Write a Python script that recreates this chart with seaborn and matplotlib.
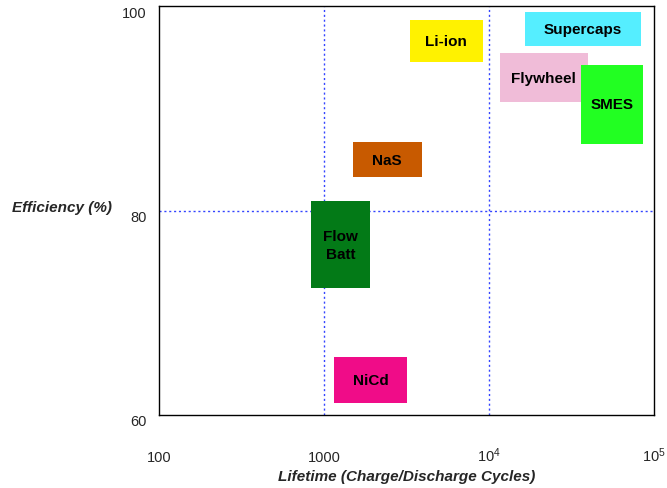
import numpy as np
import pandas as pd
import matplotlib
matplotlib.use('Agg')
import matplotlib.pyplot as plt
import matplotlib.transforms as mtransforms
import seaborn as sns

# storage technologies: lifetime range (cycles) and efficiency range (%)
techs = ['Li-ion', 'Supercaps', 'Flywheel', 'SMES', 'NaS', 'Flow\nBatt', 'NiCd']
life_lo = [3300, 16500, 11700, 36000, 1500, 830, 1150]
life_hi = [9200, 83000, 39600, 86000, 3900, 1900, 3200]
eff_lo = [94.6, 96.1, 90.6, 86.5, 83.3, 72.4, 61.2]
eff_hi = [98.7, 99.4, 95.4, 94.3, 86.7, 80.9, 65.7]
colors = ['#fff200', '#55eeff', '#f0bcd8', '#22ff22', '#c85a00', '#037a17', '#f00c88']

xticks = [100, 1000, 1e4, 1e5]
xticklabels = ['100', '1000', r'$\mathregular{10^4}$', r'$\mathregular{10^5}$']
yticks = [60, 80, 100]

df = pd.DataFrame({'tech': techs, 'lo': life_lo, 'hi': life_hi,
                   'elo': eff_lo, 'ehi': eff_hi, 'color': colors})

sns.set_style('white')
plt.rcParams['font.family'] = ['Liberation Sans', 'DejaVu Sans']

fig = plt.figure(figsize=(6.67, 4.89), dpi=100)
ax = fig.add_axes([0.2384, 0.1493, 0.7421, 0.8357])
ax.set_xscale('log')

# rectangles as bars spanning both ranges
ax.bar(df['lo'], df['ehi'] - df['elo'], width=df['hi'] - df['lo'], bottom=df['elo'],
       align='edge', color=df['color'], linewidth=0, zorder=3)

for _, r in df.iterrows():
    ax.text(np.sqrt(r['lo'] * r['hi']), (r['elo'] + r['ehi']) / 2, r['tech'],
            ha='center', va='center', fontsize=11, fontweight='bold',
            color='black', zorder=4, linespacing=1.4)

ax.set_xlim(100, 1e5)
ax.set_ylim(60, 100)
ax.set_xticks(xticks)
ax.set_xticklabels(xticklabels, fontsize=10.5)
ax.minorticks_off()
ax.set_yticks(yticks)
ax.set_yticklabels([str(v) for v in yticks], fontsize=10.5)
ax.tick_params(axis='x', direction='in', length=4, pad=33, color='black')
ax.tick_params(axis='y', direction='in', length=4, pad=9, color='black')
for lab in ax.get_xticklabels():
    lab.set_va('baseline')
# y tick labels sit a little below their gridline in the original
shift = mtransforms.ScaledTranslation(0, -0.05, fig.dpi_scale_trans)
for lab in ax.get_yticklabels():
    lab.set_transform(lab.get_transform() + shift)

# dotted blue grid at decade/20% marks
for xv in [1000, 1e4]:
    ax.axvline(xv, color='#3344ff', linestyle=(0, (1.5, 2)), linewidth=1, zorder=2)
ax.axhline(80, color='#3344ff', linestyle=(0, (1.5, 2)), linewidth=1, zorder=2)

for s in ax.spines.values():
    s.set_color('black')
    s.set_linewidth(1)

ax.set_xlabel('Lifetime (Charge/Discharge Cycles)', fontsize=11,
              fontweight='bold', fontstyle='italic', labelpad=4)
ax.set_ylabel('Efficiency (%)', fontsize=11, fontweight='bold',
              fontstyle='italic', rotation=0, ha='right', va='center')
ax.yaxis.set_label_coords(-0.095, 0.51)

fig.savefig('out.png', dpi=100)
